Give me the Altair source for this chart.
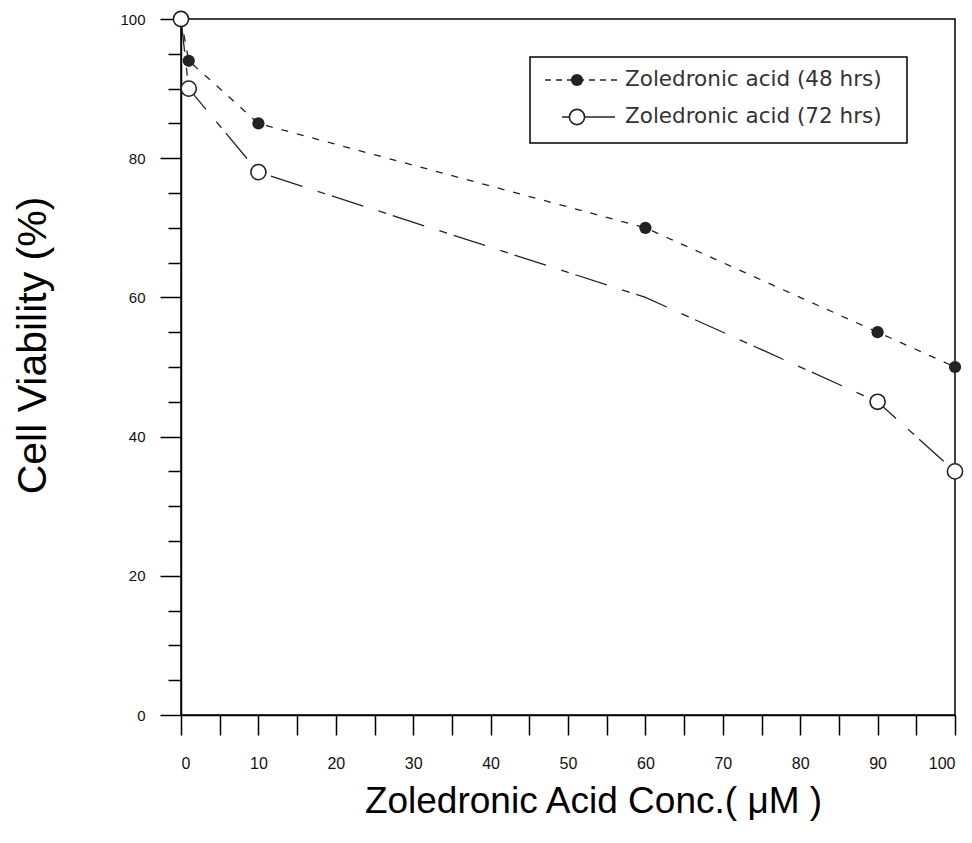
import altair as alt
import pandas as pd

# ---- data ----
conc = [0, 1, 10, 60, 90, 100]
viab_48 = [100, 94, 85, 70, 55, 50]
viab_72 = [100, 90, 78, 60, 45, 35]
marker_72 = [True, True, True, False, True, True]
series = ["Zoledronic acid (48 hrs)", "Zoledronic acid (72 hrs)"]
x_ticks = list(range(0, 101, 5))
y_ticks = list(range(0, 101, 5))

df48 = pd.DataFrame({"conc": conc, "viab": viab_48, "series": series[0], "marker": True})
df72 = pd.DataFrame({"conc": conc, "viab": viab_72, "series": series[1], "marker": marker_72})

FONT = "Liberation Sans"
INK = "#222222"
DASH48 = [7, 9]
DASH72 = [33, 16, 8, 7]

xscale = alt.Scale(domain=[0, 100], nice=False, zero=False)
yscale = alt.Scale(domain=[0, 100], nice=False, zero=False)

xaxis = alt.Axis(
    values=x_ticks,
    labelExpr="datum.value % 10 === 0 ? datum.label : ''",
    tickSize=20, tickColor="black", tickWidth=1.5,
    domainColor="black", domainWidth=1.5,
    labelFont=FONT, labelFontSize=16, labelColor="#111111", labelPadding=20,
    grid=False,
    title="Zoledronic Acid Conc.( \u03bcM )",
    titleFont=FONT, titleFontSize=37, titleFontWeight="normal", titleColor="black",
    titleX=412, titleY=97, titleBaseline="alphabetic", titleAnchor="middle",
)
yaxis = alt.Axis(
    values=y_ticks,
    labelExpr="datum.value % 20 === 0 ? datum.label : ''",
    tickSize=alt.ExprRef(expr="datum.value % 20 === 0 ? 21 : 13"),
    tickColor="black", tickWidth=1.5,
    domainColor="black", domainWidth=1.5,
    labelFont=FONT, labelFontSize=15, labelColor="#111111", labelPadding=15,
    grid=False,
    title="Cell Viability (%)",
    titleFont=FONT, titleFontSize=41, titleFontWeight="normal", titleColor="black",
    titleAngle=-90, titleX=-148, titleY=326, titleAlign="center", titleBaseline="middle",
)

x = alt.X("conc:Q", scale=xscale, axis=xaxis)
y = alt.Y("viab:Q", scale=yscale, axis=yaxis)

line48 = alt.Chart(df48).mark_line(color=INK, strokeWidth=1.3, strokeDash=DASH48).encode(x=x, y=y)
line72 = alt.Chart(df72).mark_line(color=INK, strokeWidth=1.3, strokeDash=DASH72).encode(x=x, y=y)
pts48 = alt.Chart(df48).mark_point(shape="circle", filled=True, color=INK, size=150, opacity=1).encode(x=x, y=y)
pts72 = alt.Chart(df72).transform_filter("datum.marker").mark_point(
    shape="circle", filled=True, fill="white", stroke=INK, strokeWidth=1.6, size=230, opacity=1
).encode(x=x, y=y)

# ---- legend box (drawn inside the plot, upper right) ----
one = alt.Data(values=[{}])
box = alt.Chart(one).mark_rect(fill="white", stroke="black", strokeWidth=1.5).encode(
    x=alt.value(349), x2=alt.value(726), y=alt.value(38), y2=alt.value(124)
)
leg_line48 = alt.Chart(one).mark_rule(color=INK, strokeWidth=1.3, strokeDash=[6, 5]).encode(
    x=alt.value(364), x2=alt.value(437), y=alt.value(61)
)
leg_pt48 = alt.Chart(one).mark_point(shape="circle", filled=True, color=INK, size=150, opacity=1).encode(
    x=alt.value(396), y=alt.value(61)
)
leg_line72 = alt.Chart(one).mark_rule(color=INK, strokeWidth=1.3).encode(
    x=alt.value(381), x2=alt.value(434), y=alt.value(98)
)
leg_pt72 = alt.Chart(one).mark_point(
    shape="circle", filled=True, fill="white", stroke=INK, strokeWidth=1.6, size=230, opacity=1
).encode(x=alt.value(396), y=alt.value(98))
leg_txt48 = alt.Chart(one).mark_text(
    align="left", baseline="middle", font="DejaVu Sans", fontSize=21.5, color="#333333", text=series[0]
).encode(x=alt.value(444), y=alt.value(61))
leg_txt72 = alt.Chart(one).mark_text(
    align="left", baseline="middle", font="DejaVu Sans", fontSize=21.5, color="#333333", text=series[1]
).encode(x=alt.value(444), y=alt.value(98))

chart = alt.layer(
    line48, line72, pts48, pts72,
    box, leg_line48, leg_pt48, leg_line72, leg_pt72, leg_txt48, leg_txt72,
).properties(
    width=774, height=696,
    autosize=alt.AutoSizeParams(type="none"),
    padding={"left": 181, "top": 19, "right": 17, "bottom": 128},
    background="white",
).configure_view(stroke="black", strokeWidth=1.5)

chart.save("out.html", embed_options={"renderer": "svg", "actions": False})
